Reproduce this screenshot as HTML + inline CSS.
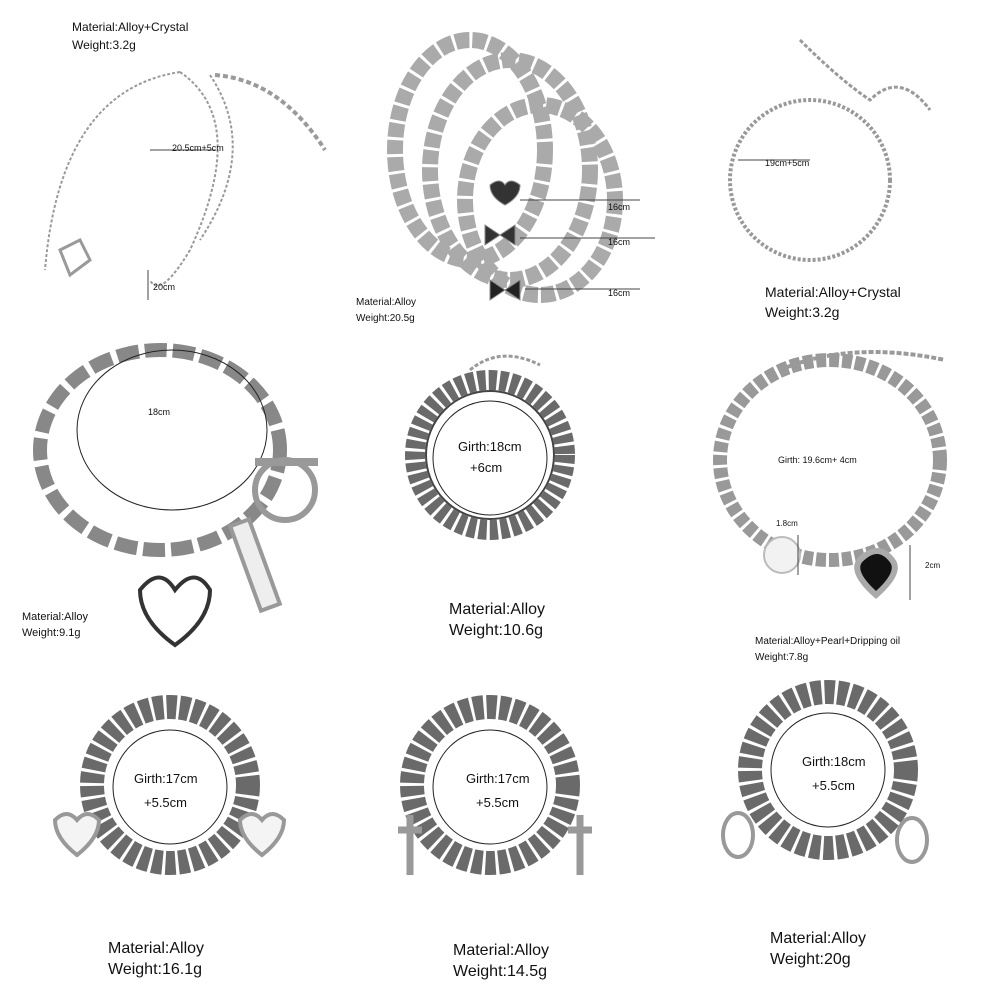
<!DOCTYPE html>
<html><head><meta charset="utf-8"><style>
html,body{margin:0;padding:0;background:#fff;}
body{width:1000px;height:1000px;position:relative;overflow:hidden;font-family:"Liberation Sans",sans-serif;color:#111;}
.t{position:absolute;white-space:nowrap;line-height:1.25;}
svg{position:absolute;left:0;top:0;}
</style></head><body>
<svg width="1000" height="1000" viewBox="0 0 1000 1000">
<g fill="none" stroke="#9a9a9a">
<path d="M180 72 Q60 90 45 270" stroke-width="2" stroke-dasharray="3 2"/>
<path d="M180 72 Q250 120 190 250 Q160 300 150 280" stroke-width="2" stroke-dasharray="3 2"/>
<path d="M210 75 Q260 150 200 240" stroke-width="2" stroke-dasharray="3 2"/>
<path d="M215 75 Q280 80 325 150" stroke-width="4" stroke-dasharray="5 3"/>
<path d="M60 250 l20 -10 l10 20 l-20 15z" stroke-width="3"/>
<line x1="150" y1="150" x2="215" y2="150" stroke="#444" stroke-width="1"/>
<line x1="148" y1="270" x2="148" y2="300" stroke="#444" stroke-width="1"/>
<g stroke="#aaa" stroke-width="16" stroke-dasharray="14 3" stroke-linecap="butt">
<ellipse cx="470" cy="150" rx="75" ry="110"/>
<ellipse cx="510" cy="170" rx="80" ry="110"/>
<ellipse cx="540" cy="200" rx="75" ry="95"/>
</g>
<path d="M490 185 q10 -8 15 0 q5 -8 15 0 q0 12 -15 20 q-15 -8 -15 -20z" fill="#333" stroke="#888"/>
<path d="M485 225 l30 20 l0 -20 l-30 20z" fill="#333" stroke="#888"/>
<path d="M490 280 l30 20 l0 -20 l-30 20z" fill="#222" stroke="#888"/>
<line x1="520" y1="200" x2="640" y2="200" stroke="#444" stroke-width="1"/>
<line x1="520" y1="238" x2="655" y2="238" stroke="#444" stroke-width="1"/>
<line x1="525" y1="289" x2="640" y2="289" stroke="#444" stroke-width="1"/>
<ellipse cx="810" cy="180" rx="80" ry="80" stroke-width="4" stroke-dasharray="3 2" stroke="#999"/>
<path d="M800 40 Q840 80 870 100 Q900 70 930 110" stroke-width="3" stroke-dasharray="4 2"/>
<line x1="738" y1="160" x2="810" y2="160" stroke="#444" stroke-width="1"/>
<ellipse cx="160" cy="450" rx="120" ry="100" stroke="#888" stroke-width="14" stroke-dasharray="22 6"/>
<ellipse cx="172" cy="430" rx="95" ry="80" stroke="#222" stroke-width="1"/>
<circle cx="285" cy="490" r="30" stroke="#999" stroke-width="6"/>
<line x1="255" y1="462" x2="318" y2="462" stroke="#999" stroke-width="8"/>
<rect x="245" y="520" width="20" height="90" transform="rotate(-20 255 565)" stroke="#999" stroke-width="4" fill="#eee"/>
<path d="M140 590 q20 -25 35 0 q20 -25 35 0 q0 30 -35 55 q-35 -25 -35 -55z" fill="#fff" stroke="#333" stroke-width="4"/>
<circle cx="490" cy="455" r="75" stroke="#6a6a6a" stroke-width="20" stroke-dasharray="8 3"/>
<circle cx="490" cy="455" r="64" stroke="#444" stroke-width="2"/>
<circle cx="490" cy="458" r="57" stroke="#222" stroke-width="1" fill="#fff"/>
<path d="M470 370 Q500 345 540 365" stroke-width="3" stroke-dasharray="4 2"/>
<ellipse cx="830" cy="460" rx="110" ry="100" stroke="#999" stroke-width="14" stroke-dasharray="10 3"/>
<path d="M780 370 Q850 340 945 360" stroke-width="4" stroke-dasharray="5 2"/>
<circle cx="782" cy="555" r="18" fill="#f2f2f2" stroke="#bbb" stroke-width="2"/>
<path d="M860 560 q18 -18 32 0 q10 12 -16 35 q-26 -23 -16 -35z" fill="#111" stroke="#aaa" stroke-width="6"/>
<line x1="798" y1="535" x2="798" y2="575" stroke="#444" stroke-width="1"/>
<line x1="910" y1="545" x2="910" y2="600" stroke="#444" stroke-width="1"/>
<circle cx="170" cy="785" r="78" stroke="#6a6a6a" stroke-width="24" stroke-dasharray="10 3"/>
<circle cx="170" cy="787" r="57" stroke="#222" stroke-width="1" fill="#fff"/>
<path d="M55 820 q12 -12 22 0 q10 -12 22 0 q0 18 -22 35 q-22 -17 -22 -35z" stroke="#999" stroke-width="4" fill="#f4f4f4"/>
<path d="M240 820 q12 -12 22 0 q10 -12 22 0 q0 18 -22 35 q-22 -17 -22 -35z" stroke="#999" stroke-width="4" fill="#f4f4f4"/>
<circle cx="490" cy="785" r="78" stroke="#6a6a6a" stroke-width="24" stroke-dasharray="10 3"/>
<circle cx="490" cy="787" r="57" stroke="#222" stroke-width="1" fill="#fff"/>
<path d="M410 815 v60 M398 830 h24 M580 815 v60 M568 830 h24" stroke="#999" stroke-width="7"/>
<circle cx="828" cy="770" r="78" stroke="#6a6a6a" stroke-width="24" stroke-dasharray="10 3"/>
<circle cx="828" cy="770" r="57" stroke="#222" stroke-width="1" fill="#fff"/>
<ellipse cx="738" cy="835" rx="15" ry="22" stroke="#999" stroke-width="4"/>
<ellipse cx="912" cy="840" rx="15" ry="22" stroke="#999" stroke-width="4"/>
</g>
</svg>
<div class="t" style="left:72px;top:20px;font-size:12px">Material:Alloy+Crystal</div>
<div class="t" style="left:72px;top:38px;font-size:12px">Weight:3.2g</div>
<div class="t" style="left:172px;top:143px;font-size:9px">20.5cm+5cm</div>
<div class="t" style="left:153px;top:282px;font-size:9px">20cm</div>
<div class="t" style="left:608px;top:202px;font-size:9px">16cm</div>
<div class="t" style="left:608px;top:237px;font-size:9px">16cm</div>
<div class="t" style="left:608px;top:288px;font-size:9px">16cm</div>
<div class="t" style="left:356px;top:297px;font-size:10px">Material:Alloy</div>
<div class="t" style="left:356px;top:313px;font-size:10px">Weight:20.5g</div>
<div class="t" style="left:765px;top:158px;font-size:9px">19cm+5cm</div>
<div class="t" style="left:765px;top:284px;font-size:14px">Material:Alloy+Crystal</div>
<div class="t" style="left:765px;top:304px;font-size:14px">Weight:3.2g</div>
<div class="t" style="left:148px;top:407px;font-size:9px">18cm</div>
<div class="t" style="left:22px;top:611px;font-size:11px">Material:Alloy</div>
<div class="t" style="left:22px;top:627px;font-size:11px">Weight:9.1g</div>
<div class="t" style="left:458px;top:439px;font-size:13px">Girth:18cm</div>
<div class="t" style="left:470px;top:460px;font-size:13px">+6cm</div>
<div class="t" style="left:449px;top:600px;font-size:16px">Material:Alloy</div>
<div class="t" style="left:449px;top:621px;font-size:16px">Weight:10.6g</div>
<div class="t" style="left:778px;top:455px;font-size:9px">Girth: 19.6cm+ 4cm</div>
<div class="t" style="left:776px;top:519px;font-size:8px">1.8cm</div>
<div class="t" style="left:925px;top:561px;font-size:8px">2cm</div>
<div class="t" style="left:755px;top:636px;font-size:10px">Material:Alloy+Pearl+Dripping oil</div>
<div class="t" style="left:755px;top:652px;font-size:10px">Weight:7.8g</div>
<div class="t" style="left:134px;top:771px;font-size:13px">Girth:17cm</div>
<div class="t" style="left:144px;top:795px;font-size:13px">+5.5cm</div>
<div class="t" style="left:466px;top:771px;font-size:13px">Girth:17cm</div>
<div class="t" style="left:476px;top:795px;font-size:13px">+5.5cm</div>
<div class="t" style="left:802px;top:754px;font-size:13px">Girth:18cm</div>
<div class="t" style="left:812px;top:778px;font-size:13px">+5.5cm</div>
<div class="t" style="left:108px;top:939px;font-size:16px">Material:Alloy</div>
<div class="t" style="left:108px;top:960px;font-size:16px">Weight:16.1g</div>
<div class="t" style="left:453px;top:941px;font-size:16px">Material:Alloy</div>
<div class="t" style="left:453px;top:962px;font-size:16px">Weight:14.5g</div>
<div class="t" style="left:770px;top:929px;font-size:16px">Material:Alloy</div>
<div class="t" style="left:770px;top:950px;font-size:16px">Weight:20g</div>
</body></html>
